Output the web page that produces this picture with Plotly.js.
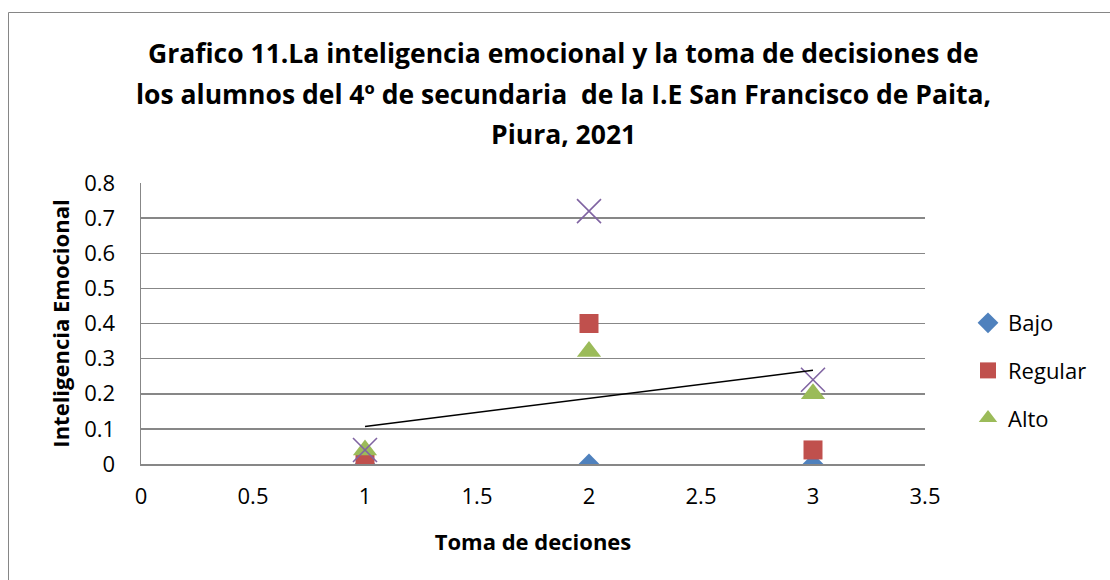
<!DOCTYPE html>
<html>
<head>
<meta charset="utf-8">
<script src="https://cdn.plot.ly/plotly-3.0.1.min.js"></script>
<style>
html,body{margin:0;padding:0;background:#fff;}
#chart{width:1110px;height:580px;}
</style>
</head>
<body>
<div id="chart"></div>
<script>
// Data
const tomaDecisiones = [1, 2, 3];
const bajo = [0, 0, 0];
const regular = [0, 0.40, 0.04];
const alto = [0.04, 0.32, 0.20];
const total = [0.04, 0.72, 0.24];
const titleLines = [
  "Grafico 11.La inteligencia emocional y la toma de decisiones de",
  "los alumnos del 4º de secundaria\u00a0 de la I.E San Francisco de Paita,",
  "Piura, 2021"
];

// Linear trendline (least squares) of the Alto series
function linFit(xs, ys) {
  const n = xs.length;
  const mx = xs.reduce((a, b) => a + b, 0) / n;
  const my = ys.reduce((a, b) => a + b, 0) / n;
  let num = 0, den = 0;
  for (let i = 0; i < n; i++) { num += (xs[i] - mx) * (ys[i] - my); den += (xs[i] - mx) * (xs[i] - mx); }
  const m = num / den;
  return { m: m, b: my - m * mx };
}
const fit = linFit(tomaDecisiones, alto);
const trendX = [Math.min(...tomaDecisiones), Math.max(...tomaDecisiones)];
const trendY = trendX.map(x => fit.b + fit.m * x);

const FONT = "'Open Sans', Lato, sans-serif";

// Plot area geometry (l=141, r=925, t=183, b=464)
const L = 141, R = 925, T = 183, B = 464;
const px = x => (x - L) / (R - L);
const py = y => (B - y) / (B - T);

const traces = [
  { x: tomaDecisiones, y: bajo, name: "Bajo", type: "scatter", mode: "markers", legendgroup: "g1",
    marker: { symbol: "diamond", size: 16, color: "#4F81BD", line: { width: 0 } } },
  { x: tomaDecisiones, y: regular, name: "Regular", type: "scatter", mode: "markers", legendgroup: "g2",
    marker: { symbol: "square", size: 19, color: "#C0504D", line: { width: 0 } } },
  { x: tomaDecisiones, y: alto, name: "Alto", type: "scatter", mode: "markers", legendgroup: "g3",
    marker: { symbol: "triangle-up", size: 21, color: "#9BBB59", line: { width: 0 } } },
  { x: tomaDecisiones, y: total, name: "Total", type: "scatter", mode: "markers", showlegend: false,
    marker: { symbol: "x-thin-open", size: 24, color: "#8064A2", line: { width: 1.6, color: "#8064A2" } } },
  { x: trendX, y: trendY, name: "Lineal (Alto)", type: "scatter", mode: "lines", showlegend: false,
    line: { color: "#000000", width: 1.5 } }
];

const annotations = titleLines.map((t, i) => ({
  text: "<b>" + t + "</b>", xref: "paper", yref: "paper",
  x: px(563), y: py([53, 94, 134][i]), xanchor: "center", yanchor: "middle",
  showarrow: false, font: { family: FONT, size: 26.5, color: "#000" }
}));

const layout = {
  width: 1110, height: 580,
  margin: { l: L, r: 1110 - R, t: T, b: 580 - B, pad: 0 },
  paper_bgcolor: "#fff", plot_bgcolor: "#fff",
  font: { family: FONT, size: 22, color: "#000" },
  showlegend: true,
  legend: {
    x: px(968), xanchor: "left", y: py(302), yanchor: "top",
    traceorder: "grouped", tracegroupgap: 16,
    font: { family: FONT, size: 22, color: "#000" },
    bgcolor: "rgba(0,0,0,0)"
  },
  xaxis: {
    range: [0, 3.5], dtick: 0.5, tick0: 0,
    showgrid: false, zeroline: false,
    showline: true, linecolor: "#878787", linewidth: 1.5,
    ticks: "", ticklabelstandoff: 12,
    tickfont: { family: FONT, size: 22, color: "#000" },
    title: { text: "<b>Toma de deciones</b>", font: { family: FONT, size: 22, color: "#000" }, standoff: 25 },
    automargin: false, fixedrange: true
  },
  yaxis: {
    range: [0, 0.8], dtick: 0.1, tick0: 0,
    showgrid: true, gridcolor: "#878787", gridwidth: 1.5,
    zeroline: false,
    showline: true, linecolor: "#878787", linewidth: 1.5,
    ticks: "", ticklabelstandoff: 20,
    tickfont: { family: FONT, size: 22, color: "#000" },
    title: { text: "<b>Inteligencia Emocional</b>", font: { family: FONT, size: 22, color: "#000" }, standoff: 8 },
    automargin: false, fixedrange: true
  },
  annotations: annotations,
  shapes: [{
    type: "rect", xref: "paper", yref: "paper", layer: "below",
    x0: px(8.5), x1: px(1120), y0: py(600), y1: py(12.5),
    line: { color: "#868686", width: 1 }, fillcolor: "rgba(0,0,0,0)"
  }]
};

Plotly.newPlot("chart", traces, layout, { displayModeBar: false, staticPlot: true });
</script>
</body>
</html>
